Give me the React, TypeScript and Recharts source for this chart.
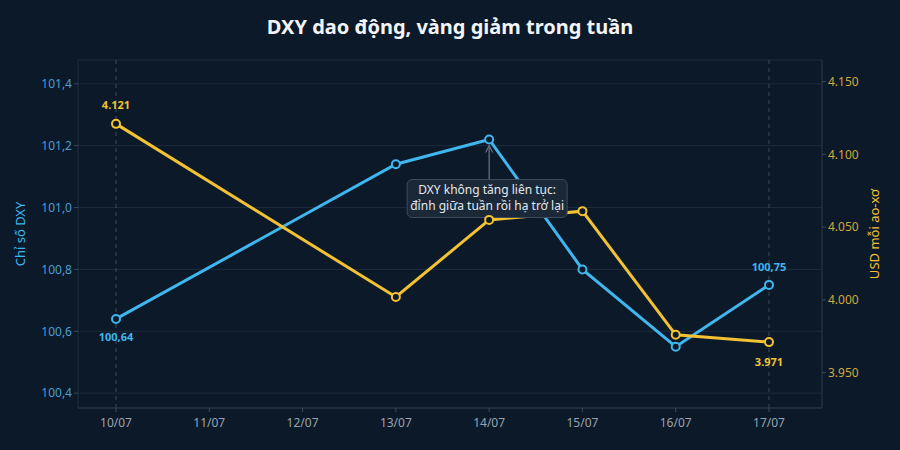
import React from 'react';
import { LineChart, Line, XAxis, YAxis, CartesianGrid, ReferenceLine, ReferenceDot, Label } from 'recharts';

const categories = ['10/07', '11/07', '12/07', '13/07', '14/07', '15/07', '16/07', '17/07'];
const dxyValues: (number | null)[] = [100.64, null, null, 101.14, 101.22, 100.8, 100.55, 100.75];
const goldValues: (number | null)[] = [4121, null, null, 4002, 4055, 4061, 3976, 3971];
const dxyTicks = [100.4, 100.6, 100.8, 101.0, 101.2, 101.4];
const goldTicks = [3950, 4000, 4050, 4100, 4150];
const titleText = 'DXY dao động, vàng giảm trong tuần';
const annotationLines = ['DXY không tăng liên tục:', 'đỉnh giữa tuần rồi hạ trở lại'];

const data = categories.map((c, i) => ({ day: c, dxy: dxyValues[i], gold: goldValues[i] }));

const BG = '#0c1929';
const BLUE = '#3fb6ee';
const GOLD = '#f2c232';
const FONT = '"Noto Sans", "Open Sans", sans-serif';

const fmtDxyTick = (v: number) => v.toFixed(1).replace('.', ',');
const fmtDxyLabel = (v: number) => v.toFixed(2).replace('.', ',');
const fmtGold = (v: number) => {
  const s = String(Math.round(v));
  return s.replace(/\B(?=(\d{3})+(?!\d))/g, '.');
};

const lastIdx = categories.length - 1;

const DxyLabel = (props: any) => {
  const { x, y, value, index } = props;
  if (value == null) return null;
  if (index === 0) {
    return <text x={x} y={y + 22} textAnchor="middle" fill={BLUE} fontSize={11} fontWeight={700} fontFamily={FONT}>{fmtDxyLabel(value)}</text>;
  }
  if (index === lastIdx) {
    return <text x={x} y={y - 14} textAnchor="middle" fill={BLUE} fontSize={11} fontWeight={700} fontFamily={FONT}>{fmtDxyLabel(value)}</text>;
  }
  return null;
};

const GoldLabel = (props: any) => {
  const { x, y, value, index } = props;
  if (value == null) return null;
  if (index === 0) {
    return <text x={x} y={y - 15} textAnchor="middle" fill={GOLD} fontSize={11} fontWeight={700} fontFamily={FONT}>{fmtGold(value)}</text>;
  }
  if (index === lastIdx) {
    return <text x={x} y={y + 24} textAnchor="middle" fill={GOLD} fontSize={11} fontWeight={700} fontFamily={FONT}>{fmtGold(value)}</text>;
  }
  return null;
};

const AnnotationShape = (props: any) => {
  const { cx, cy } = props;
  if (cx == null || cy == null) return null;
  const boxTop = cy + 40;
  const w = 160;
  const h = 38;
  const bx = cx - 2 - w / 2;
  return (
    <g>
      <line x1={cx} y1={boxTop} x2={cx} y2={cy + 8} stroke="#7f8b99" strokeWidth={1} />
      <path d={`M${cx - 3.5},${cy + 13} L${cx},${cy + 6} L${cx + 3.5},${cy + 13}`} fill="none" stroke="#7f8b99" strokeWidth={1} />
      <rect x={bx} y={boxTop} width={w} height={h} rx={5} ry={5} fill="#1b2838" stroke="#3e4d5e" strokeWidth={1} />
      <text x={bx + w / 2} y={boxTop + 15} textAnchor="middle" fill="#e4e8ee" fontSize={12} fontFamily={FONT}>{annotationLines[0]}</text>
      <text x={bx + w / 2} y={boxTop + 31} textAnchor="middle" fill="#e4e8ee" fontSize={12} fontFamily={FONT}>{annotationLines[1]}</text>
    </g>
  );
};

const dot = (color: string) => ({ r: 4, fill: BG, stroke: color, strokeWidth: 2 });

export default function App() {
  return (
    <div style={{ position: 'fixed', left: 0, top: 0, width: 900, height: 450, background: BG, fontFamily: FONT }}>
      <div style={{ position: 'absolute', left: 0, top: 13, width: 900, textAlign: 'center', color: '#f2f4f7', fontSize: 20, fontWeight: 700, fontFamily: FONT }}>
        {titleText}
      </div>
      <LineChart width={900} height={450} data={data} margin={{ top: 60, right: 0, bottom: 12, left: 0 }} style={{ position: 'absolute', left: 0, top: 0 }}>
        <CartesianGrid yAxisId="left" vertical={false} stroke="#1d2c3d" strokeWidth={1} />
        <XAxis
          dataKey="day"
          height={30}
          padding={{ left: 38, right: 53 }}
          tick={{ fill: '#9aa4b0', fontSize: 12, fontFamily: FONT }}
          axisLine={{ stroke: '#2a3a4c' }}
          tickLine={{ stroke: '#3a4a5c' }}
          tickSize={4}
          tickMargin={6}
          interval={0}
        />
        <YAxis
          yAxisId="left"
          orientation="left"
          width={78}
          domain={[100.352, 101.477]}
          ticks={dxyTicks}
          tickFormatter={fmtDxyTick}
          tick={{ fill: '#4a9ed2', fontSize: 12, fontFamily: FONT }}
          axisLine={{ stroke: '#1f2e3f' }}
          tickLine={{ stroke: '#3a4a5c' }}
          tickSize={4}
          allowDataOverflow
        >
          <Label value="Chỉ số DXY" angle={-90} position="insideLeft" offset={20} style={{ fill: BLUE, fontSize: 13, fontFamily: FONT, textAnchor: 'middle' }} />
        </YAxis>
        <YAxis
          yAxisId="right"
          orientation="right"
          width={78}
          domain={[3925.7, 4164.9]}
          ticks={goldTicks}
          tickFormatter={fmtGold}
          tick={{ fill: '#cfa83a', fontSize: 12, fontFamily: FONT }}
          axisLine={{ stroke: '#2a3a4c' }}
          tickLine={{ stroke: '#3a4a5c' }}
          tickSize={4}
          allowDataOverflow
        >
          <Label value="USD mỗi ao-xơ" angle={-90} position="insideRight" offset={26} style={{ fill: GOLD, fontSize: 13, fontFamily: FONT, textAnchor: 'middle' }} />
        </YAxis>
        <ReferenceLine yAxisId="left" x={categories[0]} stroke="#3d4b5c" strokeDasharray="4 4" />
        <ReferenceLine yAxisId="left" x={categories[lastIdx]} stroke="#3d4b5c" strokeDasharray="4 4" />
        <Line
          yAxisId="left"
          type="linear"
          dataKey="dxy"
          stroke={BLUE}
          strokeWidth={3}
          dot={dot(BLUE)}
          activeDot={false}
          connectNulls
          isAnimationActive={false}
          label={DxyLabel}
        />
        <ReferenceDot yAxisId="left" x={categories[4]} y={dxyValues[4] as number} r={0} shape={AnnotationShape} />
        <Line
          yAxisId="right"
          type="linear"
          dataKey="gold"
          stroke={GOLD}
          strokeWidth={3}
          dot={dot(GOLD)}
          activeDot={false}
          connectNulls
          isAnimationActive={false}
          label={GoldLabel}
        />
      </LineChart>
    </div>
  );
}
